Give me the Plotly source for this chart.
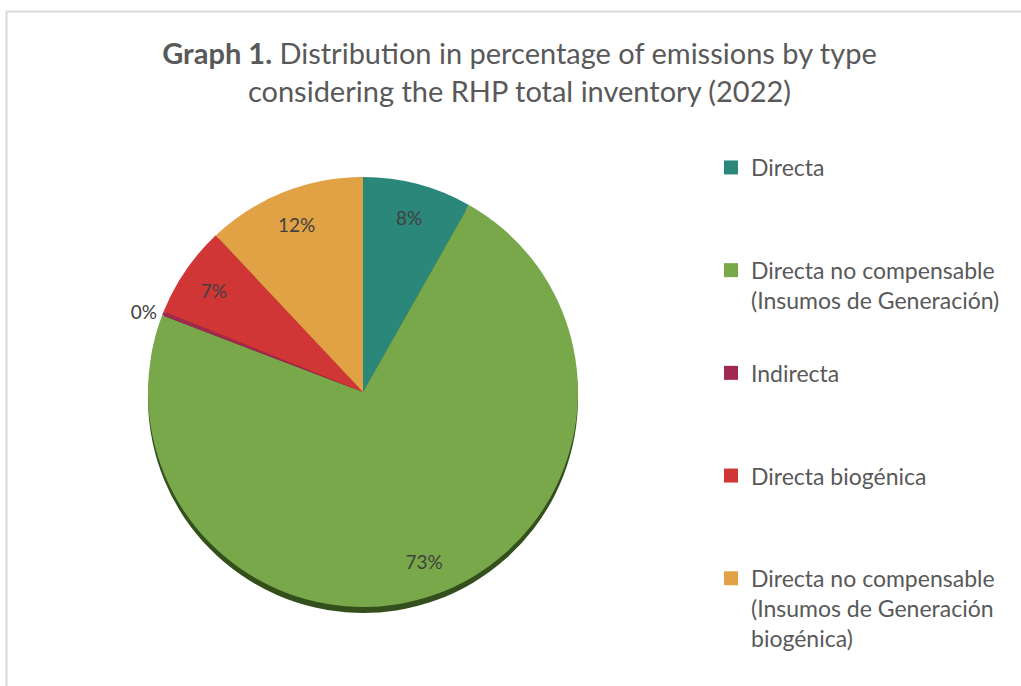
import plotly.graph_objects as go

labels = ["Directa",
          "Directa no compensable (Insumos de Generación)",
          "Indirecta",
          "Directa biogénica",
          "Directa no compensable (Insumos de Generación biogénica)"]
legend_text = ["Directa",
               "Directa no compensable<br>(Insumos de Generación)",
               "Indirecta",
               "Directa biogénica",
               "Directa no compensable<br>(Insumos de Generación<br>biogénica)"]
values = [8.2, 72.6, 0.3, 6.9, 12.0]
colors = ["#2b877a", "#78a84a", "#a0294f", "#d13636", "#e0a245"]
shadow_colors = ["#1b5249", "#33501c", "#5a1830", "#7a1f1f", "#7d5a26"]
text_pos = ["inside", "inside", "outside", "inside", "inside"]

W, H = 1021, 686
cx, cy, R = 363, 392, 215
shadow_dy = 6

def dom(cx, cy, R):
    return dict(x=[(cx - R) / W, (cx + R) / W], y=[1 - (cy + R) / H, 1 - (cy - R) / H])

common = dict(labels=labels, values=values, sort=False, direction="clockwise",
              rotation=0, showlegend=False)

fig = go.Figure()
# shadow pie
fig.add_trace(go.Pie(**common, marker=dict(colors=shadow_colors, line=dict(width=0)),
                     textinfo="none", hoverinfo="skip",
                     domain=dom(cx, cy + shadow_dy, R)))
# main pie (slices)
fig.add_trace(go.Pie(**common, marker=dict(colors=colors, line=dict(width=0)),
                     textinfo="none", domain=dom(cx, cy, R)))
# label ring (transparent), places the percentages near the outer edge
fig.add_trace(go.Pie(**common, hole=0.68,
                     marker=dict(colors=["rgba(0,0,0,0)"] * len(values), line=dict(width=0)),
                     texttemplate="%{percent:.0%}", textposition=text_pos,
                     insidetextorientation="horizontal",
                     textfont=dict(family="Lato", size=19, color="#404040"),
                     hoverinfo="skip", automargin=False,
                     domain=dom(cx, cy, R)))

# legend entries
for i, (t, c) in enumerate(zip(legend_text, colors)):
    n = t.count("<br>") + 1
    pad = "<br>\u00a0" * (3 - n)
    fig.add_trace(go.Scatter(x=[None], y=[None], mode="markers", name=t + pad,
                             legendgroup=f"g{i}",
                             marker=dict(symbol="square", size=14, color=c)))

fig.update_layout(
    width=W, height=H,
    margin=dict(l=0, r=0, t=0, b=0),
    paper_bgcolor="white", plot_bgcolor="white",
    xaxis=dict(visible=False), yaxis=dict(visible=False),
    title=dict(text="<b>Graph 1.</b> Distribution in percentage of emissions by type<br>considering the RHP total inventory (2022)",
               x=519.5 / W, xanchor="center", y=1 - 64 / H, yanchor="top",
               font=dict(family="Lato", size=29, color="#595959")),
    legend=dict(x=711 / W, xanchor="left", y=1 - 146 / H, yanchor="top",
                valign="top", tracegroupgap=10, itemwidth=30,
                font=dict(family="Lato", size=23, color="#595959"),
                bgcolor="rgba(0,0,0,0)"),
    shapes=[dict(type="rect", xref="paper", yref="paper",
                 x0=6.5 / W, x1=1.2, y0=-0.2, y1=1 - 11.5 / H,
                 line=dict(color="#d9d9d9", width=2), fillcolor="rgba(0,0,0,0)")],
)

fig.write_html("out.html")
